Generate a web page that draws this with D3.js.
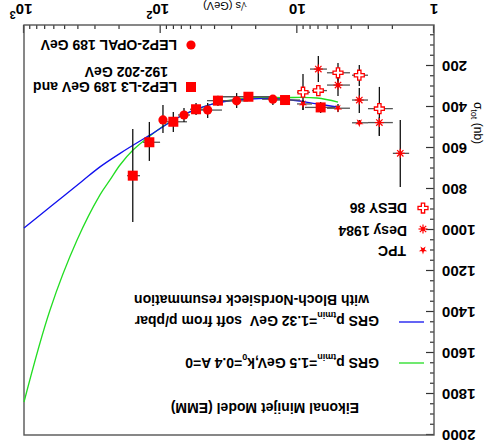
<!DOCTYPE html>
<html>
<head>
<meta charset="utf-8">
<script src="https://cdn.jsdelivr.net/npm/d3@7"></script>
<style>
body { margin: 0; background: #fff; }
text { font-family: "Liberation Sans", Arial, sans-serif; }
</style>
</head>
<body>
<svg width="484" height="448"></svg>
<script>
// sqrt(s) in GeV, sigma in nb; errors given as low/high values
var l3Data = [
  {x: 160, y: 735, xlo: 141.6, xhi: 176, ylo: 507, yhi: 961},
  {x: 121, y: 572, xlo: 101, xhi: 134.6, ylo: 473, yhi: 663},
  {x: 80.8, y: 472, xlo: 64.2, xhi: 89.9, ylo: 424, yhi: 522},
  {x: 55.1, y: 411, xlo: 45.8, xhi: 61, ylo: 380, yhi: 439},
  {x: 38.1, y: 369, xlo: 29.6, xhi: 45.8, ylo: 345, yhi: 395},
  {x: 22.8, y: 350, xlo: 15.1, xhi: 36.8, ylo: 335, yhi: 365},
  {x: 12.3, y: 366, xlo: 9.56, xhi: 15.1, ylo: 350, yhi: 380},
  {x: 6.75, y: 402, xlo: 5.3, xhi: 8.79, ylo: 376, yhi: 429}
];
var opalData = [
  {x: 96.2, y: 463, xlo: 89.9, xhi: 102.9, ylo: 390, yhi: 527},
  {x: 67.5, y: 439, xlo: 61, xhi: 74.7, ylo: 405, yhi: 473},
  {x: 45.3, y: 415, xlo: 35.6, xhi: 51.6, ylo: 380, yhi: 454},
  {x: 27.8, y: 370, xlo: 23, xhi: 33.8, ylo: 332, yhi: 405},
  {x: 15.1, y: 362, xlo: 12.3, xhi: 18.1, ylo: 341, yhi: 390}
];
var desy86Data = [
  {x: 9.09, y: 328, xlo: 8.08, xhi: 10.06, ylo: 239, yhi: 415},
  {x: 7.02, y: 320, xlo: 6.07, xhi: 7.81, ylo: 293, yhi: 341},
  {x: 5.04, y: 233, xlo: 4.12, xhi: 6.07, ylo: 185, yhi: 278},
  {x: 3.52, y: 245, xlo: 3.04, xhi: 3.98, ylo: 195, yhi: 298},
  {x: 2.51, y: 408, xlo: 2.0, xhi: 3.04, ylo: 302, yhi: 541}
];
var desy84Data = [
  {x: 7.02, y: 215, xlo: 6.07, xhi: 8.08, ylo: 151, yhi: 278},
  {x: 5.04, y: 293, xlo: 4.12, xhi: 6.07, ylo: 259, yhi: 346},
  {x: 3.52, y: 366, xlo: 3.04, xhi: 3.98, ylo: 307, yhi: 429},
  {x: 2.51, y: 476, xlo: 2.0, xhi: 3.04, ylo: 449, yhi: 541},
  {x: 1.765, y: 626, xlo: 1.52, xhi: 2.0, ylo: 463, yhi: 790}
];
var tpcData = [
  {x: 9.09, y: 385, xlo: 7.81, xhi: 10.06, ylo: 366, yhi: 415},
  {x: 5.04, y: 406, xlo: 4.12, xhi: 6.07, ylo: 385, yhi: 424},
  {x: 3.52, y: 477, xlo: 3.04, xhi: 3.98, ylo: 463, yhi: 488}
];
var blueCurve = [[1000, 990], [645, 888], [376, 762], [278, 692], [198, 626], [120, 537],
  [68.6, 439], [38.7, 380], [22.2, 361], [12.7, 361], [7.18, 385], [5.13, 400]];
var greenCurve = [[1000, 1839], [645, 1390], [409, 1049], [278, 829], [234.8, 756], [198.4, 683],
  [159.4, 610], [119.7, 541], [93, 488], [68.6, 439], [51.6, 405], [36.8, 376], [22.2, 356],
  [12.7, 354], [7.18, 356], [5.04, 376]];

var yTicks = [200, 400, 600, 800, 1000, 1200, 1400, 1600, 1800, 2000];
var xTicks = [1, 10, 100, 1000];
var xTickLabels = [["1", ""], ["10", ""], ["10", "2"], ["10", "3"]];

var svg = d3.select("svg");
// the whole picture is drawn upside down
var g = svg.append("g").attr("transform", "rotate(180 242 224)");

var x = d3.scaleLog().domain([1, 1000]).range([50, 460]);
var y = d3.scaleLinear().domain([0, 2000]).range([423, 13]);

// axes, ticks inside the frame
var yMinor = d3.range(0, 2001, 50).filter(function (d) { return d % 200 != 0; });
g.append("g").attr("transform", "translate(50,0)")
  .call(d3.axisLeft(y).tickValues(yMinor).tickSize(-4).tickFormat(""))
  .call(function (a) { a.select(".domain").remove(); });
var yAxis = g.append("g").attr("transform", "translate(50,0)")
  .call(d3.axisLeft(y).tickValues(yTicks).tickSize(-8).tickPadding(8).tickFormat(d3.format("d")));
yAxis.select(".domain").remove();
yAxis.selectAll("text").attr("font-size", 15).attr("font-weight", "bold")
  .attr("font-family", "Liberation Sans, Arial, sans-serif").attr("fill", "#000");

var xMinor = [];
[1, 10, 100].forEach(function (d) { for (var k = 2; k < 10; k++) xMinor.push(d * k); });
g.append("g").attr("transform", "translate(0,423)")
  .call(d3.axisBottom(x).tickValues(xMinor).tickSize(-4).tickFormat(""))
  .call(function (a) { a.select(".domain").remove(); });
g.append("g").attr("transform", "translate(0,423)")
  .call(d3.axisBottom(x).tickValues(xTicks).tickSize(-8).tickFormat(""))
  .call(function (a) { a.select(".domain").remove(); });
g.selectAll(".tick line").attr("stroke", "#333").attr("stroke-width", 1.2);

xTicks.forEach(function (v, i) {
  var t = g.append("text").attr("x", x(v) + (xTickLabels[i][1] ? 3 : 0)).attr("y", 444)
    .attr("text-anchor", "middle").attr("font-size", 15).attr("font-weight", "bold")
    .text(xTickLabels[i][0]);
  if (xTickLabels[i][1]) {
    t.append("tspan").attr("dy", -7).attr("font-size", 11).text(xTickLabels[i][1]);
  }
});

g.append("rect").attr("x", 50).attr("y", 13).attr("width", 410).attr("height", 410)
  .attr("fill", "none").attr("stroke", "#555").attr("stroke-width", 1.4);

g.append("text").attr("x", 237).attr("y", 446).attr("font-size", 11).text("\u221as (GeV)");
var yt = g.append("text").attr("transform", "translate(10,325) rotate(-90)")
  .attr("text-anchor", "middle").attr("font-size", 12).text("\u03c3");
yt.append("tspan").attr("dy", 3).attr("font-size", 9).text("tot");
yt.append("tspan").attr("dy", -3).text(" (nb)");

// curves
var line = d3.line().x(function (d) { return x(d[0]); }).y(function (d) { return y(d[1]); })
  .curve(d3.curveCatmullRom.alpha(0.5));
g.append("path").datum(greenCurve).attr("d", line)
  .attr("fill", "none").attr("stroke", "#22dd22").attr("stroke-width", 1.3);
g.append("path").datum(blueCurve).attr("d", line)
  .attr("fill", "none").attr("stroke", "#1010ee").attr("stroke-width", 1.3);

// error bars
function errBars(data) {
  var e = g.append("g");
  e.selectAll(".h").data(data).enter().append("line")
    .attr("x1", function (d) { return x(d.xlo); }).attr("x2", function (d) { return x(d.xhi); })
    .attr("y1", function (d) { return y(d.y); }).attr("y2", function (d) { return y(d.y); })
    .attr("stroke", "#555").attr("stroke-width", 1.3);
  e.selectAll(".v").data(data).enter().append("line")
    .attr("x1", function (d) { return x(d.x); }).attr("x2", function (d) { return x(d.x); })
    .attr("y1", function (d) { return y(d.ylo); }).attr("y2", function (d) { return y(d.yhi); })
    .attr("stroke", "#111").attr("stroke-width", 1.3);
}
[l3Data, opalData, desy86Data, desy84Data, tpcData].forEach(errBars);

// marker shapes
function square(p, cx, cy) {
  p.append("rect").attr("x", cx - 5).attr("y", cy - 5).attr("width", 10).attr("height", 10).attr("fill", "#f00");
}
function circle(p, cx, cy) {
  p.append("circle").attr("cx", cx).attr("cy", cy).attr("r", 4.6).attr("fill", "#f00");
}
function openCross(p, cx, cy) {
  p.append("path").attr("transform", "translate(" + cx + "," + cy + ")")
    .attr("d", d3.symbol().type(d3.symbolCross).size(55)())
    .attr("fill", "#fff").attr("stroke", "#f00").attr("stroke-width", 1.3);
}
function asterisk(p, cx, cy) {
  var r = 4.5;
  [0, 45, 90, 135].forEach(function (a) {
    var dx = r * Math.cos(a * Math.PI / 180), dy = r * Math.sin(a * Math.PI / 180);
    p.append("line").attr("x1", cx - dx).attr("y1", cy - dy).attr("x2", cx + dx).attr("y2", cy + dy)
      .attr("stroke", "#f00").attr("stroke-width", 1.2);
  });
  p.append("circle").attr("cx", cx).attr("cy", cy).attr("r", 2).attr("fill", "#f00");
}
function tpcStar(p, cx, cy) {
  p.append("path").attr("transform", "translate(" + cx + "," + cy + ")")
    .attr("d", d3.symbol().type(d3.symbolStar).size(22)()).attr("fill", "#f00");
}

var m = g.append("g");
l3Data.forEach(function (d) { square(m, x(d.x), y(d.y)); });
opalData.forEach(function (d) { circle(m, x(d.x), y(d.y)); });
desy86Data.forEach(function (d) { openCross(m, x(d.x), y(d.y)); });
desy84Data.forEach(function (d) { asterisk(m, x(d.x), y(d.y)); });
tpcData.forEach(function (d) { tpcStar(m, x(d.x), y(d.y)); });

// legend
var lg = g.append("g").attr("font-size", 14).attr("font-weight", "bold").attr("fill", "#000");
circle(lg, 293, 403);
lg.append("text").attr("x", 307).attr("y", 408).text("LEP2-OPAL 189 GeV");
square(lg, 293, 361);
lg.append("text").attr("x", 307).attr("y", 366).text("LEP2-L3 189 GeV and");
lg.append("text").attr("x", 316).attr("y", 381).text("192-202 GeV");

openCross(lg, 61, 240);
lg.append("text").attr("x", 77).attr("y", 245).text("DESY 86");
asterisk(lg, 61, 219);
lg.append("text").attr("x", 77).attr("y", 222).text("Desy 1984");
tpcStar(lg, 61, 198);
lg.append("text").attr("x", 78).attr("y", 202).text("TPC");

lg.append("line").attr("x1", 60).attr("x2", 85).attr("y1", 126).attr("y2", 126)
  .attr("stroke", "#1010ee").attr("stroke-width", 1.3);
var bt = lg.append("text").attr("x", 105).attr("y", 132).style("white-space", "pre").text("GRS p");
bt.append("tspan").attr("dy", 4).attr("font-size", 9).text("tmin");
bt.append("tspan").attr("dy", -4).text("=1.32 GeV  soft from p/pbar");
lg.append("text").attr("x", 115).attr("y", 153).text("with Bloch-Nordsieck resummation");

lg.append("line").attr("x1", 60).attr("x2", 85).attr("y1", 85).attr("y2", 85)
  .attr("stroke", "#22dd22").attr("stroke-width", 1.3);
var gt = lg.append("text").attr("x", 105).attr("y", 90).text("GRS p");
gt.append("tspan").attr("dy", 4).attr("font-size", 9).text("tmin");
gt.append("tspan").attr("dy", -4).text("=1.5 GeV,k");
gt.append("tspan").attr("dy", 4).attr("font-size", 9).text("0");
gt.append("tspan").attr("dy", -4).text("=0.4 A=0");

lg.append("text").attr("x", 125).attr("y", 45).text("Eikonal Minijet Model (EMM)");
</script>
</body>
</html>
